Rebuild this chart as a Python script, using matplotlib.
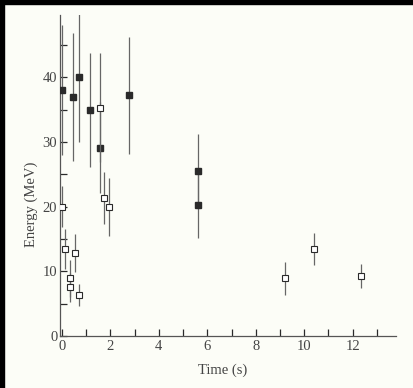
import matplotlib
matplotlib.use("Agg")
import matplotlib.pyplot as plt
from matplotlib.ticker import MultipleLocator

# open squares
open_t = [0.0, 0.11, 0.32, 0.34, 0.55, 0.70, 1.56, 1.73, 1.93, 9.2, 10.4, 12.35]
open_e = [20.0, 13.4, 7.5, 8.9, 12.8, 6.3, 35.3, 21.3, 19.9, 8.9, 13.4, 9.3]
open_err = [3.2, 3.1, 2.2, 2.8, 2.9, 1.7, 8.4, 4.0, 4.5, 2.6, 2.5, 1.9]

# filled squares
fill_t = [0.0, 0.45, 0.70, 1.15, 1.56, 2.76, 5.6, 5.6]
fill_e = [38.0, 37.0, 40.0, 35.0, 29.1, 37.2, 25.5, 20.2]
fill_err = [10.0, 9.9, 10.0, 8.8, 7.0, 9.0, 5.8, 5.1]

x_ticks = [0, 2, 4, 6, 8, 10, 12]
y_ticks = [0, 10, 20, 30, 40]

plt.rcParams['font.family'] = ['Liberation Serif', 'DejaVu Serif']

bg = '#fcfdf7'
ink = '#2a2a2a'

fig = plt.figure(figsize=(4.14, 3.88), dpi=100, facecolor=bg)
ax = fig.add_axes([0.145, 0.134, 0.812, 0.827], facecolor=bg)

ax.errorbar(fill_t, fill_e, yerr=fill_err, fmt='s', ms=4.5, color=ink,
            mfc=ink, mec=ink, ecolor='#666666', elinewidth=0.9, capsize=0, zorder=3)
ax.errorbar(open_t, open_e, yerr=open_err, fmt='s', ms=5, color=ink,
            mfc='white', mec=ink, mew=0.8, ecolor='#666666', elinewidth=0.9,
            capsize=0, zorder=4)

ax.set_xlim(-0.08, 13.8)
ax.set_ylim(0, 49.6)
ax.set_xticks(x_ticks)
ax.set_yticks(y_ticks)
ax.xaxis.set_minor_locator(MultipleLocator(1))
ax.yaxis.set_minor_locator(MultipleLocator(5))
ax.tick_params(which='both', direction='in', length=5, width=0.9, color=ink,
               labelsize=10.5, labelcolor='#444444', pad=3)
ax.tick_params(axis='y', which='both', pad=2)

for s in ['top', 'right']:
    ax.spines[s].set_visible(False)
for s in ['left', 'bottom']:
    ax.spines[s].set_color('#555555')
    ax.spines[s].set_linewidth(0.9)

ax.set_xlabel('Time (s)', fontsize=10.5, color='#444444')
ax.set_ylabel('Energy (MeV)', fontsize=10.5, color='#444444')
ax.xaxis.set_label_coords(0.485, -0.085)
ax.yaxis.set_label_coords(-0.065, 0.41)

# black scan edges
fig.patches.append(plt.Rectangle((0, 0.99), 1, 0.01, transform=fig.transFigure,
                                 color='black', zorder=10))
fig.patches.append(plt.Rectangle((0, 0), 0.009, 1, transform=fig.transFigure,
                                 color='black', zorder=10))

fig.savefig('out.png', dpi=100, facecolor=bg)
